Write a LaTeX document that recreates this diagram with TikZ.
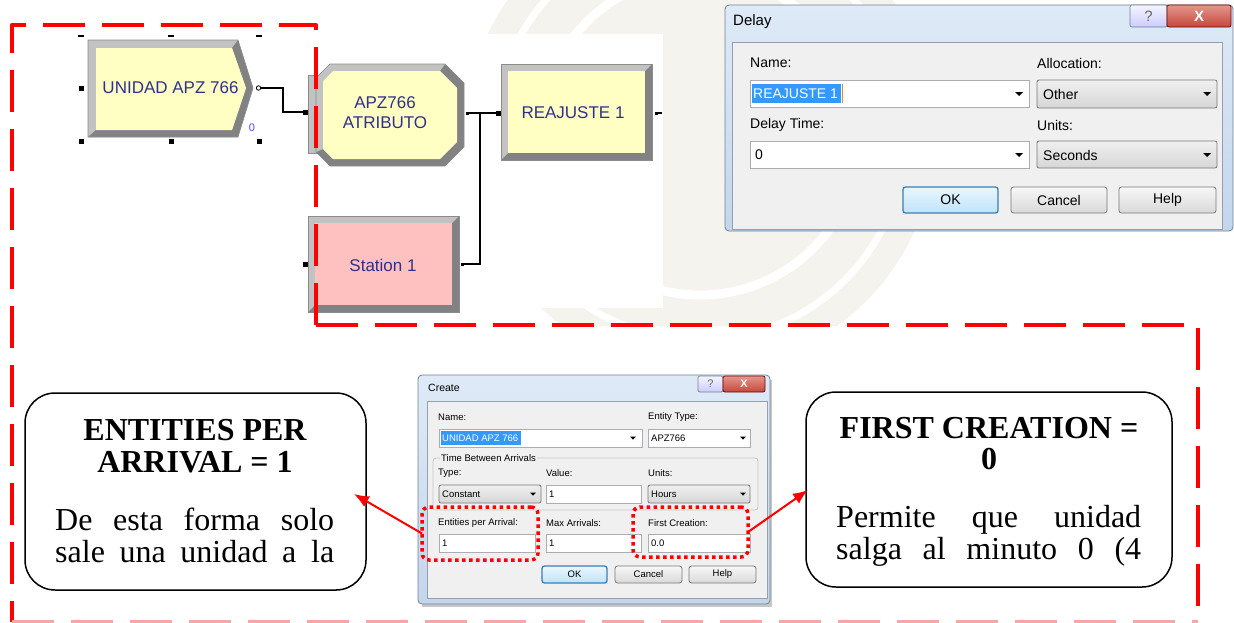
\documentclass[tikz,border=0pt]{standalone}
\usepackage{fontspec}
\setmainfont{Liberation Serif}
\newfontfamily\uisans{Liberation Sans}
\usetikzlibrary{arrows.meta}

\definecolor{modfill}{RGB}{255,255,196}
\definecolor{stfill}{RGB}{255,192,192}
\definecolor{bevlight}{RGB}{194,194,194}
\definecolor{bevdark}{RGB}{130,130,130}
\definecolor{modtext}{RGB}{48,48,140}
\definecolor{winedge}{RGB}{112,130,152}
\definecolor{wintop}{RGB}{222,234,247}
\definecolor{winbot}{RGB}{196,214,236}
\definecolor{panel}{RGB}{240,240,240}
\definecolor{paneledge}{RGB}{150,160,172}
\definecolor{selblue}{RGB}{51,153,255}
\definecolor{fieldedge}{RGB}{171,173,179}
\definecolor{comboedge}{RGB}{120,120,120}
\definecolor{okedge}{RGB}{60,127,177}
\definecolor{oktop}{RGB}{234,246,253}
\definecolor{okbot}{RGB}{190,228,250}
\definecolor{closetop}{RGB}{228,150,140}
\definecolor{closebot}{RGB}{196,72,60}
\definecolor{pinkline}{RGB}{246,168,168}
\definecolor{seal}{RGB}{244,243,238}
\definecolor{caret}{RGB}{230,140,40}

\newcommand\uifont[1]{\uisans\fontsize{#1}{#1}\selectfont}
\newcommand\uifontb[2]{\uisans\fontsize{#1}{#2}\selectfont}
% small down-pointing triangle of a drop-down list
\newcommand\dropmark[3]{\fill ({#1-#3},{#2-#3/2}) -- ({#1+#3},{#2-#3/2}) -- (#1,{#2+#3/2}) -- cycle;}
% bevelled Arena module rectangle: x1 y1 x2 y2 fill
\newcommand\bevrect[5]{%
  \fill[bevdark] (#1,#2) rectangle (#3,#4);
  \fill[bevlight] (#1,#4) -- (#1,#2) -- (#3,#2) -- ({#3-7},{#2+7}) -- ({#1+7},{#2+7}) -- ({#1+7},{#4-7}) -- cycle;
  \fill[#5] ({#1+7},{#2+7}) rectangle ({#3-7},{#4-7});
  \draw[black!45, line width=0.6pt] (#1,#2) rectangle (#3,#4);}

\tikzset{
  uibox/.style={inner sep=0pt, outer sep=0pt, anchor=north west},
  field/.style={uibox, draw=fieldedge, fill=white, line width=0.8pt},
  combo/.style={uibox, draw=comboedge, top color=white!94!black, bottom color=white!84!black, rounded corners=2pt, line width=0.8pt},
  btn/.style={uibox, draw=comboedge, top color=white!97!black, bottom color=white!85!black, rounded corners=2.5pt, line width=0.8pt},
  okbtn/.style={btn, draw=okedge, top color=oktop, bottom color=okbot, line width=1.3pt},
  winframe/.style={uibox, draw=winedge, top color=wintop, bottom color=winbot, rounded corners=4pt, line width=0.8pt},
  winpanel/.style={uibox, draw=paneledge, fill=panel, line width=0.8pt},
  helpbtn/.style={uibox, draw=winedge, top color=white!96!blue, bottom color=white!80!blue, rounded corners=2pt, line width=0.7pt},
  closebtn/.style={uibox, draw=black!55!red, top color=closetop, bottom color=closebot, rounded corners=2pt, line width=0.7pt, text=white},
  lbl/.style={anchor=west, inner sep=0pt},
  modlabel/.style={align=center, inner sep=0pt, text=modtext, font=\uifontb{17}{20}},
  port/.style={fill=black, minimum size=5pt, inner sep=0pt, outer sep=0pt},
  smallport/.style={fill=black, minimum size=3pt, inner sep=0pt, outer sep=0pt},
  handle/.style={fill=black, minimum size=5pt, inner sep=0pt},
  conn/.style={line width=1.1pt, black},
  outline/.style={red, line width=4pt, dash pattern=on 42pt off 17pt, line join=round},
  reddots/.style={uibox, draw=red, line width=3.5pt, dash pattern=on 3.5pt off 3.5pt, rounded corners=7pt},
  callout/.style={draw=black, line width=1.5pt, rounded corners=30pt, fill=white, inner sep=0pt},
  ctitle/.style={anchor=base, inner sep=0pt, font=\bfseries\fontsize{32}{32}\selectfont},
  cbody/.style={anchor=base west, inner sep=0pt, font=\fontsize{32}{32}\selectfont},
  redarrow/.style={red, line width=2pt, -{Latex[length=15pt, width=12pt]}},
}

\begin{document}
\begin{tikzpicture}[x=1pt, y=-1pt]
\useasboundingbox (0,0) rectangle (1234,622);
\fill[white] (0,0) rectangle (1234,622);

% faint seal printed on the page
\begin{scope}
  \clip (316,0) rectangle (1234,325);
  \fill[seal] (700,135) circle (235);
  \draw[white, line width=9pt] (700,135) circle (160);
  \draw[white, line width=7pt] (700,135) circle (205);
\end{scope}

% ---------- Arena model canvas ----------
\fill[white] (60,34) rectangle (663,308);

% Create module (chevron)
\fill[bevlight] (88,40) -- (238,40) -- (253,88) -- (238,137) -- (88,137) -- cycle;
\fill[bevdark] (238,40) -- (253,88) -- (238,137) -- (88,137) -- (96,130) -- (232,130) -- (246,88) -- (232,48) -- cycle;
\fill[modfill] (96,48) -- (232,48) -- (246,88) -- (232,130) -- (96,130) -- cycle;
\draw[black!45, line width=0.6pt] (88,40) -- (238,40) -- (253,88) -- (238,137) -- (88,137) -- cycle;
\node[modlabel] (createMod) at (170.5,88) {UNIDAD APZ 766};
\node[inner sep=0pt, text=blue!70, font=\uifont{11}] (createCount) at (252,128) {0};

% selection handles
\foreach \hx in {81,171,259} \fill (\hx-3,34.5) rectangle (\hx+3,37);
\foreach \hx/\hy in {81/88, 81/141, 171/141, 259/141} \node[handle] at (\hx,\hy) {};

% Assign module (octagon)
\fill[bevlight] (308,75) rectangle (318,153);
\draw[black!45, line width=0.6pt] (308,75) rectangle (318,153);
\fill[bevdark] (330,64) -- (445,64) -- (464,83) -- (464,147) -- (445,166) -- (330,166) -- (316,152) -- (316,78) -- cycle;
\fill[bevlight] (316,152) -- (316,78) -- (330,64) -- (445,64) -- (440,71) -- (333,71) -- (323,81) -- (323,149) -- cycle;
\fill[modfill] (333,71) -- (440,71) -- (457,88) -- (457,142) -- (440,159) -- (333,159) -- (323,149) -- (323,81) -- cycle;
\draw[black!45, line width=0.6pt] (330,64) -- (445,64) -- (464,83) -- (464,147) -- (445,166) -- (330,166) -- (316,152) -- (316,78) -- cycle;
\node[modlabel] (assignMod) at (385,113) {APZ766\\ATRIBUTO};

% Delay module
\bevrect{501}{64}{652}{160}{modfill}
\node[modlabel] (delayMod) at (573,113) {REAJUSTE 1};

% Station module
\bevrect{308}{216}{459}{312}{stfill}
\node[modlabel] (stationMod) at (383,265) {Station 1};

% ports and connectors
\coordinate (createOut) at (261,88);
\draw[line width=0.8pt] (258.5,88) circle (2.2);
\node[port] (assignIn) at (305,112) {};
\node[smallport] (assignOut) at (467,113) {};
\node[port] (delayIn) at (498,113) {};
\node[smallport] (delayOut) at (656,113) {};
\coordinate (delayOutEnd) at (662,113);
\node[port] (stationIn) at (305,264) {};
\node[smallport] (stationOut) at (462,264) {};
\coordinate (merge) at (480,113);
\draw[conn] (createOut) -- (283,88) |- (assignIn);
\draw[conn] (assignOut) -- (delayIn);
\draw[conn] (stationOut) -| (merge);
\draw[conn] (delayOut) -- (delayOutEnd);

% ---------- Delay dialog ----------
\node[winframe, minimum width=508pt, minimum height=226pt] (delayWin) at (725,5) {};
\node[lbl, font=\uifont{15}] (delayTitle) at (733,22) {Delay};
\node[helpbtn, minimum width=37pt, minimum height=22pt, font=\uifont{15}, text=black!60] (delayHelpIcon) at (1130,5) {?};
\node[closebtn, minimum width=64pt, minimum height=22pt, font=\uifont{15}\bfseries] (delayClose) at (1167,5) {X};
\node[winpanel, minimum width=490pt, minimum height=187pt] (delayPanel) at (732,42) {};

\begin{scope}[every node/.append style={font=\uifont{14}}]
\node[lbl] (dNameLbl) at (750,63) {Name:};
\node[lbl] (dAllocLbl) at (1037,63) {Allocation:};
\node[field, minimum width=279pt, minimum height=27pt] (dName) at (750,80) {};
\node[uibox, fill=selblue, minimum width=89pt, minimum height=19pt] (dSel) at (752,84) {};
\node[lbl, text=white] (dNameTxt) at (753,94) {REAJUSTE 1};
\draw[caret, line width=1pt] (842,84) -- (842,103);
\dropmark{1019}{94}{4}
\node[combo, minimum width=180pt, minimum height=28pt] (dAlloc) at (1037,80) {};
\node[lbl] (dAllocTxt) at (1043,94) {Other};
\dropmark{1207}{94}{4}

\node[lbl] (dTimeLbl) at (750,125) {Delay Time:};
\node[lbl] (dUnitsLbl) at (1037,125) {Units:};
\node[field, minimum width=279pt, minimum height=27pt] (dTime) at (750,141) {};
\node[lbl] (dTimeTxt) at (755,155) {0};
\dropmark{1019}{155}{4}
\node[combo, minimum width=180pt, minimum height=27pt] (dUnits) at (1037,141) {};
\node[lbl] (dUnitsTxt) at (1043,155) {Seconds};
\dropmark{1207}{155}{4}

\node[okbtn, minimum width=95pt, minimum height=26pt] (dOk) at (903,187) {OK};
\node[btn, minimum width=96pt, minimum height=26pt] (dCancel) at (1011,187) {Cancel};
\node[btn, minimum width=97pt, minimum height=26pt] (dHelp) at (1119,187) {Help};
\end{scope}

% ---------- dashed frame ----------
\draw[outline] (316,325) -- (316,25) -- (12,25) -- (12,622);
\draw[outline] (316,325) -- (1198,325) -- (1198,622);
\draw[pinkline, line width=3pt, dash pattern=on 42pt off 17pt] (12,621) -- (1198,621);

% ---------- Create dialog ----------
\fill[black!22] (422,380) rectangle (772,607);
\node[winframe, minimum width=352pt, minimum height=229pt] (createWin) at (418,375) {};
\node[lbl, font=\uifont{10.5}] (cTitle) at (428,388) {Create};
\node[helpbtn, minimum width=25pt, minimum height=16pt, font=\uifont{11}, text=black!60] (cHelpIcon) at (698,376) {?};
\node[closebtn, minimum width=42pt, minimum height=16pt, font=\uifont{11}\bfseries] (cClose) at (723,376) {X};
\node[winpanel, minimum width=340pt, minimum height=197pt] (cPanel) at (427,401) {};

\begin{scope}[every node/.append style={font=\uifont{9.5}}]
\node[lbl] (cNameLbl) at (438,417) {Name:};
\node[lbl] (cTypeLbl0) at (648,417) {Entity Type:};
\node[field, minimum width=203pt, minimum height=18pt] (cName) at (439,429) {};
\node[uibox, fill=selblue, minimum width=80pt, minimum height=14pt] (cSel) at (441,431) {};
\node[lbl, text=white] (cNameTxt) at (442,438) {UNIDAD APZ 766};
\dropmark{633}{438}{3}
\node[field, minimum width=102pt, minimum height=18pt] (cEnt) at (648,429) {};
\node[lbl] (cEntTxt) at (651,438) {APZ766};
\dropmark{743}{438}{3}

\draw[black!22, line width=0.8pt, rounded corners=3pt] (433,458) rectangle (758,510);
\node[lbl, fill=panel, inner sep=1pt] (cGroup) at (440,458) {Time Between Arrivals};
\node[lbl] (cTypeLbl) at (438,473) {Type:};
\node[lbl] (cValLbl) at (546,473) {Value:};
\node[lbl] (cUnitLbl) at (648,473) {Units:};
\node[combo, minimum width=102pt, minimum height=18pt] (cType) at (439,485) {};
\node[lbl] (cTypeTxt) at (442,494) {Constant};
\dropmark{533}{494}{3}
\node[field, minimum width=95pt, minimum height=18pt] (cVal) at (546,485) {};
\node[lbl] (cValTxt) at (549,494) {1};
\node[combo, minimum width=102pt, minimum height=18pt] (cUnits) at (648,485) {};
\node[lbl] (cUnitsTxt) at (651,494) {Hours};
\dropmark{743}{494}{3}

\node[lbl] (cEpaLbl) at (438,523) {Entities per Arrival:};
\node[lbl] (cMaxLbl) at (546,523) {Max Arrivals:};
\node[lbl] (cFirstLbl) at (648,523) {First Creation:};
\node[field, minimum width=96pt, minimum height=18pt] (cEpa) at (439,534) {};
\node[lbl] (cEpaTxt) at (442,543) {1};
\node[field, minimum width=95pt, minimum height=18pt] (cMax) at (546,534) {};
\node[lbl] (cMaxTxt) at (549,543) {1};
\node[field, minimum width=102pt, minimum height=18pt] (cFirst) at (648,534) {};
\node[lbl] (cFirstTxt) at (651,543) {0.0};

\node[okbtn, minimum width=65pt, minimum height=17pt] (cOk) at (542,566) {OK};
\node[btn, minimum width=67pt, minimum height=17pt] (cCancel) at (615,566) {Cancel};
\node[btn, minimum width=67pt, minimum height=17pt] (cHelp) at (689,566) {Help};
\end{scope}

% highlighted fields
\node[reddots, minimum width=116pt, minimum height=53pt] (dotL) at (422,507) {};
\node[reddots, minimum width=115pt, minimum height=50pt] (dotR) at (633,507) {};

% ---------- callouts ----------
\node[callout, minimum width=341pt, minimum height=197pt] (callL) at (195.5,491.5) {};
\node[ctitle] (callLt1) at (195,440) {ENTITIES PER};
\node[ctitle] (callLt2) at (195,472) {ARRIVAL = 1};
\node[cbody] (callLb1) at (55,530) {\makebox[279pt][s]{De esta forma solo}};
\node[cbody] (callLb2) at (55,562) {\makebox[279pt][s]{sale una unidad a la}};

\node[callout, minimum width=366pt, minimum height=195pt] (callR) at (989,489.5) {};
\node[ctitle] (callRt1) at (989,438) {FIRST CREATION =};
\node[ctitle] (callRt2) at (989,469) {0};
\node[cbody] (callRb1) at (836,527) {\makebox[305pt][s]{Permite que unidad}};
\node[cbody] (callRb2) at (836,559) {\makebox[305pt][s]{salga al minuto 0 (4}};

\coordinate (tipL) at (354,494);
\coordinate (tipR) at (808,490);
\draw[redarrow] (dotL.west) -- (tipL);
\draw[redarrow] (dotR.east) -- (tipR);
\end{tikzpicture}
\end{document}
